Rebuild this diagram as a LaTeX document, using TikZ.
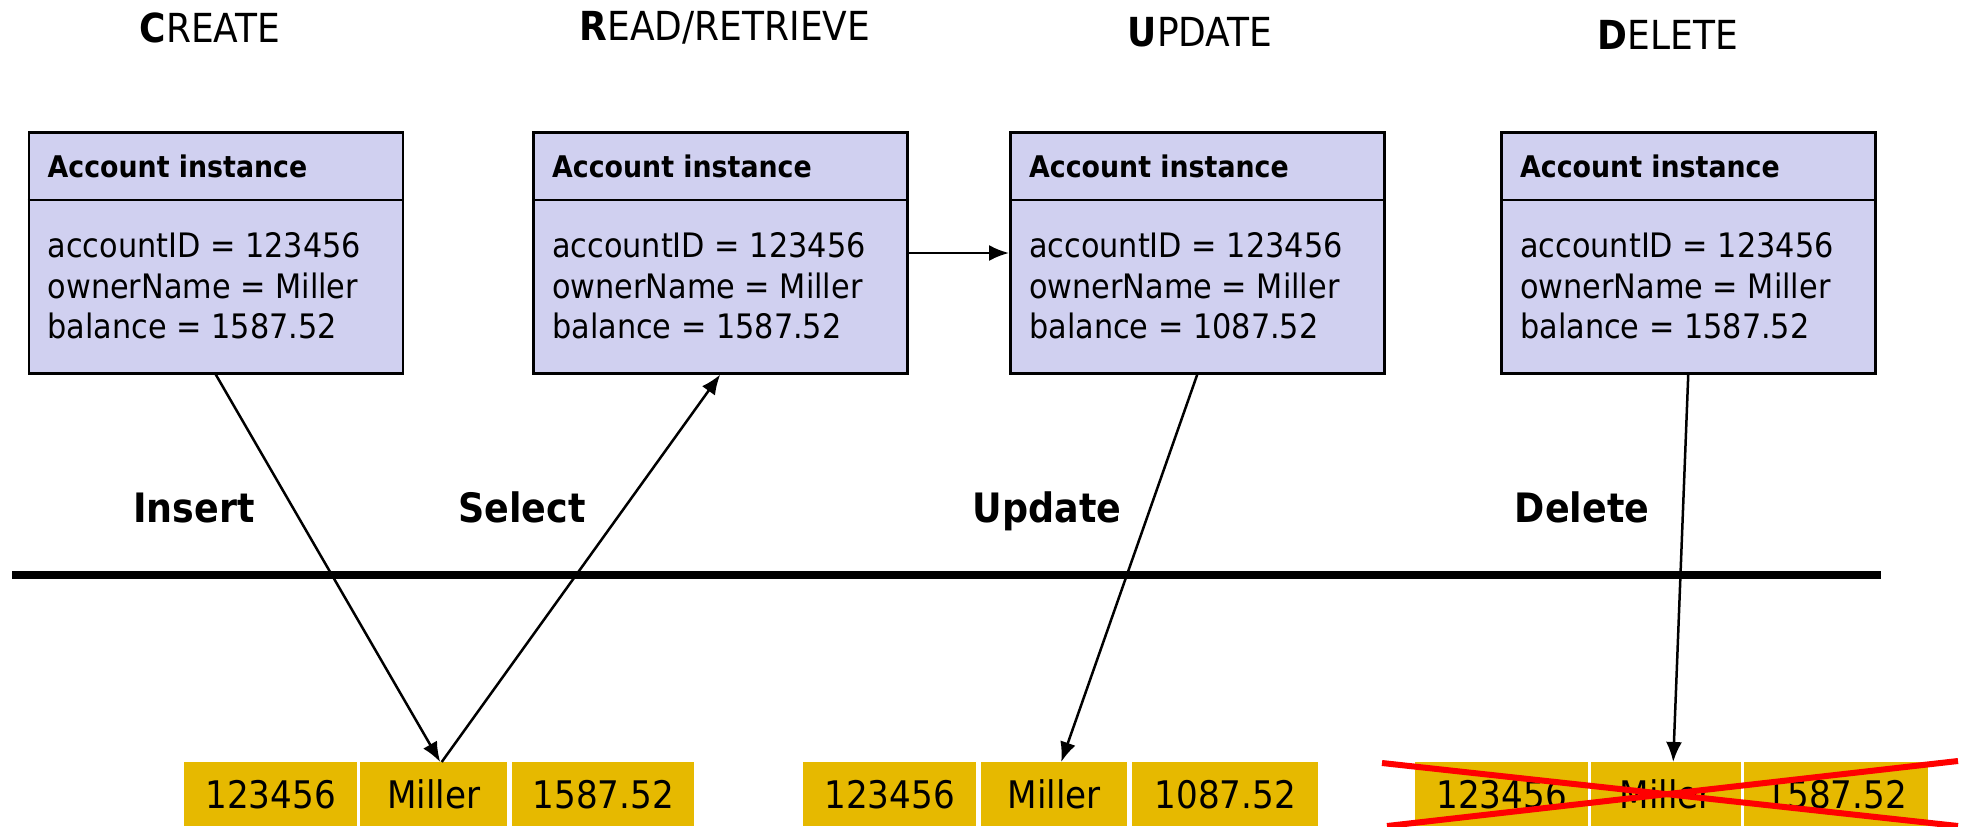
\documentclass[tikz,border=0pt]{standalone}
\usepackage{fontspec}
\setmainfont{DejaVu Sans Condensed}
\usetikzlibrary{arrows.meta}
\definecolor{boxfill}{RGB}{208,208,240}
\definecolor{rowfill}{RGB}{230,185,0}
\definecolor{strike}{RGB}{255,0,0}

% one object box: name, left edge, balance value
\newcommand\acctbox[3]{%
  \node[objbox] (#1) at (#2,131) {};
  \draw[line width=2.5pt] ([yshift=-69pt]#1.north west) -- ([yshift=-69pt]#1.north east);
  \node[hdr] (#1h) at ({#2+20},166) {Account instance};
  \node[attrs] (#1a) at ({#2+20},286) {accountID = 123456\\ownerName = Miller\\balance = #3};
}

\begin{document}
\begin{tikzpicture}[x=1pt,y=-1pt,
  objbox/.style={draw=black, line width=2.5pt, fill=boxfill, minimum width=374pt,
    minimum height=241pt, anchor=north west, inner sep=0pt},
  hdr/.style={font=\fontsize{29.8}{35}\selectfont\bfseries, anchor=west, inner sep=0pt},
  attrs/.style={font=\fontsize{33.7}{40.7}\selectfont, align=left, anchor=west, inner sep=0pt},
  op/.style={font=\fontsize{40}{48}\selectfont, inner sep=0pt},
  lbl/.style={font=\fontsize{40.5}{48}\selectfont\bfseries, inner sep=0pt, anchor=base},
  cell/.style={fill=rowfill, minimum height=64pt, inner sep=0pt, anchor=north west,
    font=\fontsize{38}{45}\selectfont},
  link/.style={line width=2.5pt, -{Latex[length=20pt,width=16pt]}},
  cross/.style={strike, line width=6pt}
]
\useasboundingbox (0,0) rectangle (1962,827);

% operation titles
\node[op] (tc) at (210,27.5) {\textbf{C}REATE};
\node[op] (tr) at (725,27.5) {\textbf{R}EAD/RETRIEVE};
\node[op] (tu) at (1200,32) {\textbf{U}PDATE};
\node[op] (td) at (1668,35) {\textbf{D}ELETE};

% object instances
\acctbox{b1}{27.5}{1587.52}
\acctbox{b2}{532}{1587.52}
\acctbox{b3}{1009}{1087.52}
\acctbox{b4}{1500}{1587.52}

% SQL operation labels
\node[lbl] (li) at (194,522) {Insert};
\node[lbl] (ls) at (522,522) {Select};
\node[lbl] (lu) at (1047,522) {Update};
\node[lbl] (ld) at (1582,522) {Delete};

% boundary between objects and database
\coordinate (sepL) at (12,575);
\coordinate (sepR) at (1881,575);
\draw[line width=7.5pt] (sepL) -- (sepR);

% table rows
\node[cell, minimum width=173pt] (t1a) at (184,762) {123456};
\node[cell, minimum width=147pt] (t1b) at (360,762) {Miller};
\node[cell, minimum width=182pt] (t1c) at (512,762) {1587.52};

\node[cell, minimum width=173pt] (t2a) at (803,762) {123456};
\node[cell, minimum width=146pt] (t2b) at (981,762) {Miller};
\node[cell, minimum width=186pt] (t2c) at (1132,762) {1087.52};

\node[cell, minimum width=173pt] (t3a) at (1415,762) {123456};
\node[cell, minimum width=150pt] (t3b) at (1591,762) {Miller};
\node[cell, minimum width=184pt] (t3c) at (1744,762) {1587.52};

% deleted row
\coordinate (xa) at (1382,763);
\coordinate (xb) at (1958,826);
\coordinate (xc) at (1387,826);
\coordinate (xd) at (1958,761);
\draw[cross] (xa) -- (xb);
\draw[cross] (xc) -- (xd);

% connectors
\draw[link] (b1.south) -- ([xshift=6.5pt]t1b.north);
\draw[link] ([xshift=8pt]t1b.north) -- (b2.south);
\draw[link] ([yshift=-122pt]b2.north east) -- ([yshift=-122pt]b3.north west);
\draw[link] (b3.south) -- ([xshift=7pt]t2b.north);
\draw[link] (b4.south) -- ([xshift=7pt]t3b.north);
\end{tikzpicture}
\end{document}
